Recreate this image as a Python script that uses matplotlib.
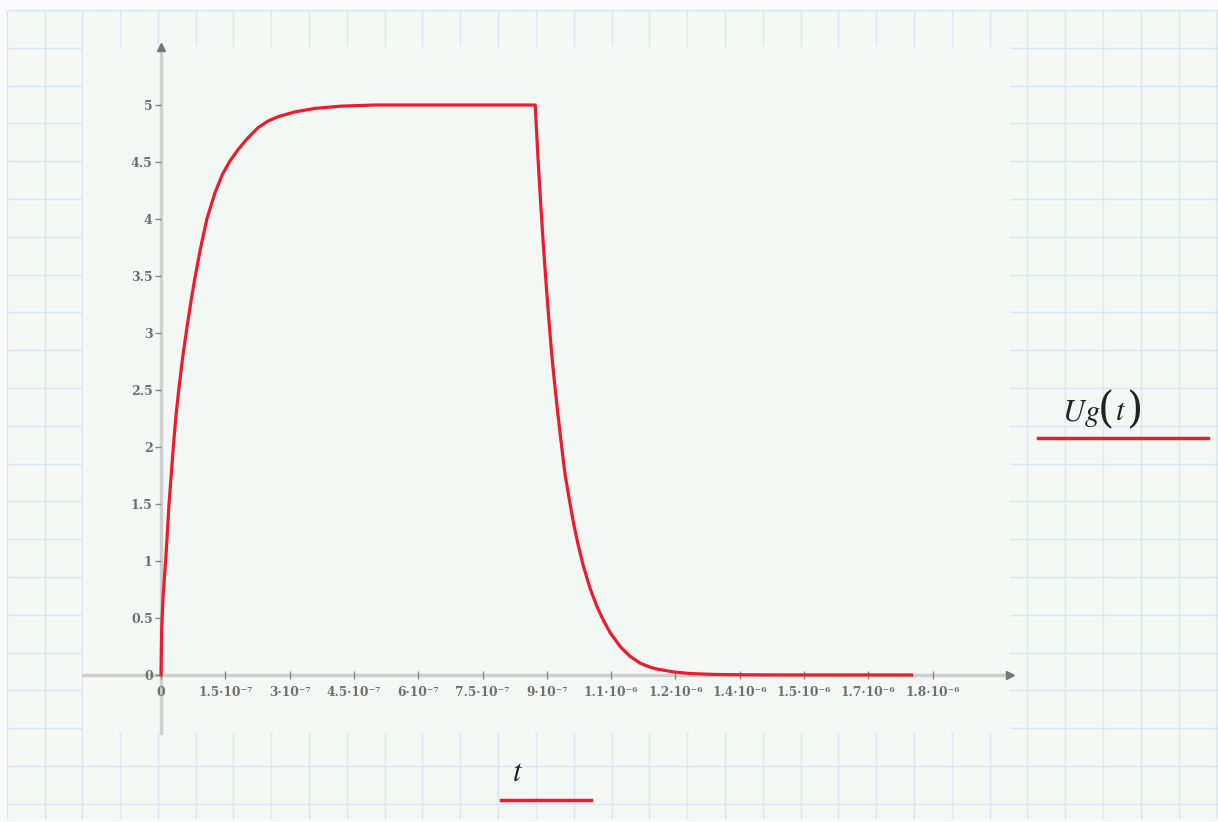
import matplotlib.pyplot as plt
import numpy as np

# 读图得到的曲线点 (t 单位 ns, Ug 伏)
t_ns = [0, 1.5, 5, 11.7, 18.7, 28.7, 35, 42, 51, 61, 70, 79, 92, 107, 126, 143, 161,
        180, 200, 226, 250, 275, 313, 359, 420, 500, 650, 873,
        876, 880, 886, 892, 899, 906, 913, 919, 925, 931, 937, 943, 952, 962, 972,
        985, 1001, 1017, 1032, 1048, 1071, 1094, 1117, 1140, 1157, 1196, 1234,
        1290, 1351, 1450, 1751]
ug_vals = [0, 0.4, 0.7, 1.05, 1.5, 2.0, 2.28, 2.52, 2.8, 3.06, 3.28, 3.48, 3.74, 4.0,
           4.23, 4.39, 4.51, 4.61, 4.7, 4.8, 4.86, 4.9, 4.94, 4.97, 4.99, 5.0, 5.0, 5.0,
           4.78, 4.5, 4.12, 3.77, 3.4, 3.06, 2.75, 2.53, 2.32, 2.12, 1.93, 1.75, 1.55,
           1.34, 1.16, 0.96, 0.76, 0.60, 0.48, 0.37, 0.25, 0.165, 0.105, 0.07, 0.052,
           0.027, 0.013, 0.005, 0.002, 0.0005, 0.0]
t_vals = [v * 1e-9 for v in t_ns]

x_ticks = [0, 1.5e-7, 3e-7, 4.5e-7, 6e-7, 7.5e-7, 9e-7, 1.05e-6, 1.2e-6,
           1.35e-6, 1.5e-6, 1.65e-6, 1.8e-6]
x_labels = ['0', '1.5·10⁻⁷', '3·10⁻⁷', '4.5·10⁻⁷', '6·10⁻⁷', '7.5·10⁻⁷', '9·10⁻⁷',
            '1.1·10⁻⁶', '1.2·10⁻⁶', '1.4·10⁻⁶', '1.5·10⁻⁶', '1.7·10⁻⁶', '1.8·10⁻⁶']
y_ticks = [0, 0.5, 1, 1.5, 2, 2.5, 3, 3.5, 4, 4.5, 5]
y_labels = ['0', '0.5', '1', '1.5', '2', '2.5', '3', '3.5', '4', '4.5', '5']

W, H = 1218, 822
bg_col = '#f4f8f5'
grid_col = '#d9e7f2'
red = '#ec1c2e'
axis_col = '#cfcfcf'
lab_col = '#6e6e6e'

fig = plt.figure(figsize=(W / 100, H / 100), dpi=100, facecolor='#fafbfa')

# 背景网格 (像素坐标)
bg = fig.add_axes([0, 0, 1, 1])
bg.set_xlim(0, W)
bg.set_ylim(H, 0)
bg.axis('off')
bg.add_patch(plt.Rectangle((6.7, 10), W - 6.7, 808, color=bg_col, zorder=0))
gx = np.arange(6.7, W, 37.8)
gy = np.arange(10, 820, 37.8)
bg.vlines(gx, 10, 818, color=grid_col, lw=1, zorder=1)
bg.hlines(gy, 6.7, W, color=grid_col, lw=1, zorder=1)

# 图区
x0, x1, y0, y1 = 82.7, 1010, 46.7, 733
ax = fig.add_axes([x0 / W, 1 - y1 / H, (x1 - x0) / W, (y1 - y0) / H])
ax.set_facecolor(bg_col)
px = 1.5e-7 / 64.3
ax.set_xlim((x0 - 161) * px, (x1 - 161) * px)
ax.set_ylim((675 - y1) / 114, (675 - y0) / 114)

ax.plot(t_vals, ug_vals, color=red, lw=2.3, solid_joinstyle='round', zorder=3)

for s in ['top', 'right']:
    ax.spines[s].set_visible(False)
for s in ['left', 'bottom']:
    ax.spines[s].set_position(('data', 0))
    ax.spines[s].set_color(axis_col)
    ax.spines[s].set_linewidth(2.5)
    ax.spines[s].set_zorder(1)
ax.plot(1.0, 0, '>', color='#777777', ms=6, transform=ax.get_yaxis_transform(), clip_on=False)
ax.plot(0, 1.0, '^', color='#777777', ms=6, transform=ax.get_xaxis_transform(), clip_on=False)

ax.set_xticks(x_ticks)
ax.set_xticklabels(x_labels, family='DejaVu Serif', fontweight='bold', fontsize=8.8, color=lab_col)
ax.set_yticks(y_ticks)
ax.set_yticklabels(y_labels, family='DejaVu Serif', fontweight='bold', fontsize=9, color=lab_col)
ax.tick_params(axis='x', direction='inout', length=6, width=1, color='#8a8a8a', pad=5)
ax.tick_params(axis='y', direction='out', length=4, width=1, color='#8a8a8a', pad=2)

# 图例式标签
plt.rcParams['mathtext.fontset'] = 'stix'
bg.text(1100, 413, r'$Ug$', fontsize=22, ha='right', va='center', color='#222222', zorder=5)
bg.text(1106, 410, '(', fontsize=30, family='DejaVu Serif', fontweight='light',
        ha='center', va='center', color='#222222', zorder=5)
bg.text(1121, 411, r'$t$', fontsize=22, ha='center', va='center', color='#222222', zorder=5)
bg.text(1135, 410, ')', fontsize=30, family='DejaVu Serif', fontweight='light',
        ha='center', va='center', color='#222222', zorder=5)
bg.plot([1038, 1208], [438, 438], color=red, lw=2.5, zorder=5)
bg.text(518, 772, r'$t$', fontsize=22, ha='center', va='center', color='#222222', zorder=5)
bg.plot([501, 591], [800, 800], color=red, lw=2.5, zorder=5)

plt.savefig('out.png', dpi=100, facecolor=fig.get_facecolor())
